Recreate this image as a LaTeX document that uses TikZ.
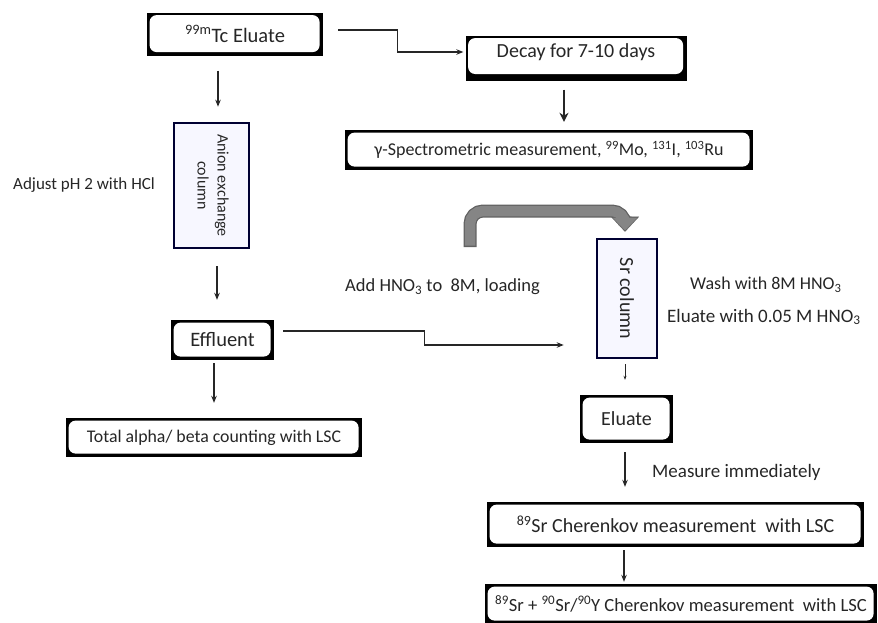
\documentclass[tikz,border=0pt]{standalone}
\usepackage{fontspec}
\setmainfont{Carlito}
\usetikzlibrary{arrows.meta}

\newcommand{\fsz}[1]{\fontsize{#1}{#1}\selectfont}
\newcommand{\sups}[1]{\textsuperscript{#1}}

\tikzset{
  frame/.style={fill=black, inner sep=0pt, text=black!85, align=center,
    path picture={\fill[white, rounded corners=7pt]
      ([xshift=2.6pt,yshift=#1]path picture bounding box.south west) rectangle
      ([xshift=-3.4pt,yshift=-2.6pt]path picture bounding box.north east);}},
  frame/.default=3.4pt,
  colbox/.style={draw=black!80!blue, line width=2.6pt, fill=blue!3, inner sep=0pt, text=black!85},
  note/.style={text=black!85, inner sep=0pt},
  arr/.style={-{Stealth[length=7pt,width=5.5pt]}, line width=1.1pt, black!85},
}

\begin{document}
\begin{tikzpicture}[x=1pt, y=-1pt]
  \useasboundingbox (0,0) rectangle (878,622);

  % boxes
  \node[frame, minimum width=176pt, minimum height=43pt] (tc) at (235,34) {\fsz{20.5}\sups{99m}Tc Eluate};
  \node[frame=6.5pt, minimum width=221pt, minimum height=45pt] (decay) at (576,58) {\fsz{20}Decay for 7-10 days\\[3pt]};
  \node[frame, minimum width=408pt, minimum height=40pt] (spec) at (549,150) {\fsz{18}γ-Spectrometric measurement, \sups{99}Mo, \sups{131}I, \sups{103}Ru};
  \node[colbox, minimum width=75pt, minimum height=125pt] (anion) at (211.5,185.5)
    {\rotatebox{-90}{\fontsize{16}{20}\selectfont\begin{tabular}{@{}c@{}}Anion exchange\\column\end{tabular}}};
  \node[frame, minimum width=103pt, minimum height=40pt] (effluent) at (222.5,340) {\fsz{20.5}Effluent};
  \node[frame, minimum width=296pt, minimum height=39pt] (total) at (214,437.5) {\fsz{17.8}Total alpha/ beta counting with LSC};
  \node[colbox, minimum width=60pt, minimum height=119pt] (srcol) at (627,298.5) {\rotatebox{-90}{\fsz{20}Sr column}};
  \node[frame, minimum width=93pt, minimum height=48pt] (eluate) at (626.5,419) {\fsz{20}Eluate};
  \node[frame, minimum width=377pt, minimum height=45pt] (cher1) at (675.5,524.5) {\fsz{20}\sups{89}Sr Cherenkov measurement\ \ with LSC};
  \node[frame, minimum width=392pt, minimum height=40pt] (cher2) at (681,604) {\fsz{18.6}\sups{89}Sr + \sups{90}Sr/\sups{90}Y Cherenkov measurement\ \ with LSC};

  % side notes
  \node[note, anchor=west] (adjust) at (13,185) {\fsz{17}Adjust pH 2 with HCl};
  \node[note, anchor=west] (add) at (345,287) {\fsz{18.5}Add HNO\textsubscript{3} to\ \ 8M, loading};
  \node[note, anchor=west] (wash) at (690,285) {\fsz{18}Wash with 8M HNO\textsubscript{3}};
  \node[note, anchor=west] (elwith) at (667,317) {\fsz{19}Eluate with 0.05 M HNO\textsubscript{3}};
  \node[note, anchor=west] (measure) at (652,472) {\fsz{19}Measure immediately};

  % connectors
  \draw[arr] ([xshift=15pt,yshift=4pt]tc.east) -- ++(59,0) |- ([xshift=-2pt,yshift=6pt]decay.west);
  \draw[arr] ([xshift=-17pt,yshift=-15pt]tc.south) -- ([xshift=6.5pt,yshift=15pt]anion.north);
  \draw[arr, line width=2pt, -{Stealth[length=9pt,width=9pt]}] ([xshift=-12pt,yshift=-9pt]decay.south) -- ([xshift=15pt,yshift=8pt]spec.north);
  \draw[arr] ([xshift=5.5pt,yshift=-17pt]anion.south) -- ([xshift=-5.5pt,yshift=20pt]effluent.north);
  \draw[arr] ([xshift=-8.5pt,yshift=-3pt]effluent.south) -- ([yshift=15pt]total.north);
  \draw[arr] ([xshift=9pt,yshift=9pt]effluent.east) -- ++(141,0) |- ([xshift=-32pt,yshift=-46.5pt]srcol.west);
  \draw[arr, line width=0.7pt, -{Stealth[length=4pt,width=3pt]}] ([xshift=-2pt,yshift=-5pt]srcol.south) -- ([xshift=-1.5pt,yshift=15pt]eluate.north);
  \draw[arr] ([xshift=-1.5pt,yshift=-9pt]eluate.south) -- ([xshift=-50.5pt,yshift=15pt]cher1.north);
  \draw[arr] ([xshift=-51.5pt,yshift=-3pt]cher1.south) -- ([xshift=-57pt,yshift=2pt]cher2.north);

  % grey loading arrow
  \coordinate (feed) at (470,247);
  \draw[line width=13pt, black!62, rounded corners=13pt, -{Triangle[width=28pt,length=15pt,line width=0.1pt]}]
    (feed) -- ++(0,-36) -| ([xshift=-2pt,yshift=6pt]srcol.north);
  \draw[line width=10.5pt, black!48, rounded corners=13pt, shorten <=1.3pt, shorten >=1.3pt, -{Triangle[width=24pt,length=12.5pt,line width=0.1pt]}]
    (feed) -- ++(0,-36) -| ([xshift=-2pt,yshift=6pt]srcol.north);
\end{tikzpicture}
\end{document}
